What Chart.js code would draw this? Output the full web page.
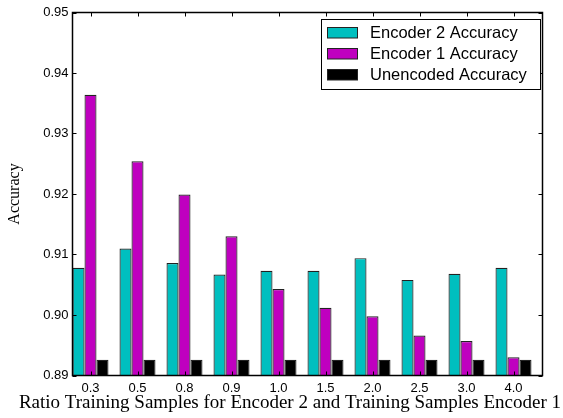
<!DOCTYPE html>
<html>
<head>
<meta charset="utf-8">
<script src="https://cdn.jsdelivr.net/npm/chart.js@4.4.1/dist/chart.umd.min.js"></script>
<style>
  html, body { margin: 0; padding: 0; background: #fff; }
</style>
</head>
<body>
<canvas id="chart" width="563" height="418"></canvas>
<script>
const ratios = ['0.3', '0.5', '0.8', '0.9', '1.0', '1.5', '2.0', '2.5', '3.0', '4.0'];
const encoder2Acc = [0.9078, 0.9110, 0.9086, 0.9067, 0.9073, 0.9073, 0.9094, 0.9058, 0.9068, 0.9078];
const encoder1Acc = [0.9364, 0.9254, 0.9199, 0.9130, 0.9043, 0.9012, 0.8998, 0.8966, 0.8957, 0.8930];
const unencodedAcc = [0.8926, 0.8926, 0.8926, 0.8926, 0.8926, 0.8926, 0.8926, 0.8926, 0.8926, 0.8926];
const yTicks = [0.89, 0.90, 0.91, 0.92, 0.93, 0.94, 0.95];

const xTitle = 'Ratio Training Samples for Encoder 2 and Training Samples Encoder 1';
const yTitle = 'Accuracy';

// bars of a group sit at the left of each unit slot, like the original plot
const GROUP_CENTER = 0.383;
const toPoints = (vals) => vals.map((v, i) => ({ x: i + GROUP_CENTER, y: v }));

const sans = 'Liberation Sans, Arial, sans-serif';
const serif = 'Liberation Serif, Times New Roman, serif';

const framePlugin = {
  id: 'frame',
  afterDatasetsDraw(chart) {
    const { ctx, chartArea: a, scales } = chart;
    ctx.save();
    ctx.strokeStyle = '#000';
    ctx.lineWidth = 1.5;
    ctx.strokeRect(a.left, a.top, a.right - a.left, a.bottom - a.top);

    // inward tick marks on all four sides
    ctx.lineWidth = 1;
    const tl = 4;
    ctx.beginPath();
    scales.x.ticks.forEach((t, i) => {
      const x = Math.round(scales.x.getPixelForTick(i)) + 0.5;
      ctx.moveTo(x, a.bottom); ctx.lineTo(x, a.bottom - tl);
      ctx.moveTo(x, a.top); ctx.lineTo(x, a.top + tl);
    });
    scales.y.ticks.forEach((t, i) => {
      const y = Math.round(scales.y.getPixelForTick(i)) + 0.5;
      ctx.moveTo(a.left, y); ctx.lineTo(a.left + tl, y);
      ctx.moveTo(a.right, y); ctx.lineTo(a.right - tl, y);
    });
    ctx.stroke();

    // x axis title
    ctx.fillStyle = '#000';
    ctx.font = '19px ' + serif;
    ctx.textAlign = 'center';
    ctx.textBaseline = 'middle';
    ctx.fillText(xTitle, 290, 403);

    // legend box
    const lx = 321, ly = 19.5, lw = 219, lh = 70;
    ctx.fillStyle = '#fff';
    ctx.fillRect(lx, ly, lw, lh);
    ctx.lineWidth = 1;
    ctx.strokeStyle = '#000';
    ctx.strokeRect(lx + 0.5, ly, lw, lh);
    ctx.font = '16.5px ' + sans;
    ctx.textAlign = 'left';
    chart.data.datasets.forEach((ds, i) => {
      const ry = 27.5 + i * 21;
      ctx.fillStyle = ds.backgroundColor;
      ctx.fillRect(327.5, ry, 30, 10.5);
      ctx.strokeStyle = '#222';
      ctx.strokeRect(327.5, ry, 30, 10.5);
      ctx.fillStyle = '#000';
      ctx.fillText(ds.label, 370, ry + 5.5);
    });
    ctx.restore();
  }
};

const barStyle = { borderColor: '#222', borderWidth: 1.2, base: 0.89, categoryPercentage: 0.766, barPercentage: 1 };

new Chart(document.getElementById('chart'), {
  type: 'bar',
  data: {
    datasets: [
      { label: 'Encoder 2 Accuracy', data: toPoints(encoder2Acc), backgroundColor: '#00bfbf', ...barStyle },
      { label: 'Encoder 1 Accuracy', data: toPoints(encoder1Acc), backgroundColor: '#bf00bf', ...barStyle },
      { label: 'Unencoded Accuracy', data: toPoints(unencodedAcc), backgroundColor: '#000000', ...barStyle },
    ],
  },
  options: {
    responsive: false,
    animation: false,
    devicePixelRatio: 1,
    layout: { padding: { left: 0, right: 20.5, top: 12.5, bottom: 0 } },
    plugins: { legend: { display: false }, tooltip: { enabled: false } },
    scales: {
      x: {
        type: 'linear',
        offset: false,
        min: 0,
        max: ratios.length,
        grid: { display: false, drawTicks: false, offset: false },
        border: { display: false },
        afterBuildTicks: (s) => { s.ticks = ratios.map((r, i) => ({ value: i + GROUP_CENTER })); },
        afterFit: (s) => { s.height = 42.5; },
        ticks: {
          autoSkip: false,
          maxRotation: 0,
          padding: 5,
          color: '#000',
          font: { family: sans, size: 13 },
          callback: (v, i) => ratios[i],
        },
      },
      y: {
        min: 0.89,
        max: 0.95,
        grid: { display: false, drawTicks: false },
        border: { display: false },
        afterBuildTicks: (s) => { s.ticks = yTicks.map((v) => ({ value: v })); },
        afterFit: (s) => { s.width = 72.5; },
        ticks: {
          padding: 4,
          color: '#000',
          font: { family: sans, size: 13 },
          callback: (v) => Number(v).toFixed(2),
        },
        title: {
          display: true,
          text: yTitle,
          color: '#000',
          padding: { top: 5, bottom: 0 },
          font: { family: serif, size: 16 },
        },
      },
    },
  },
  plugins: [framePlugin],
});
</script>
</body>
</html>
